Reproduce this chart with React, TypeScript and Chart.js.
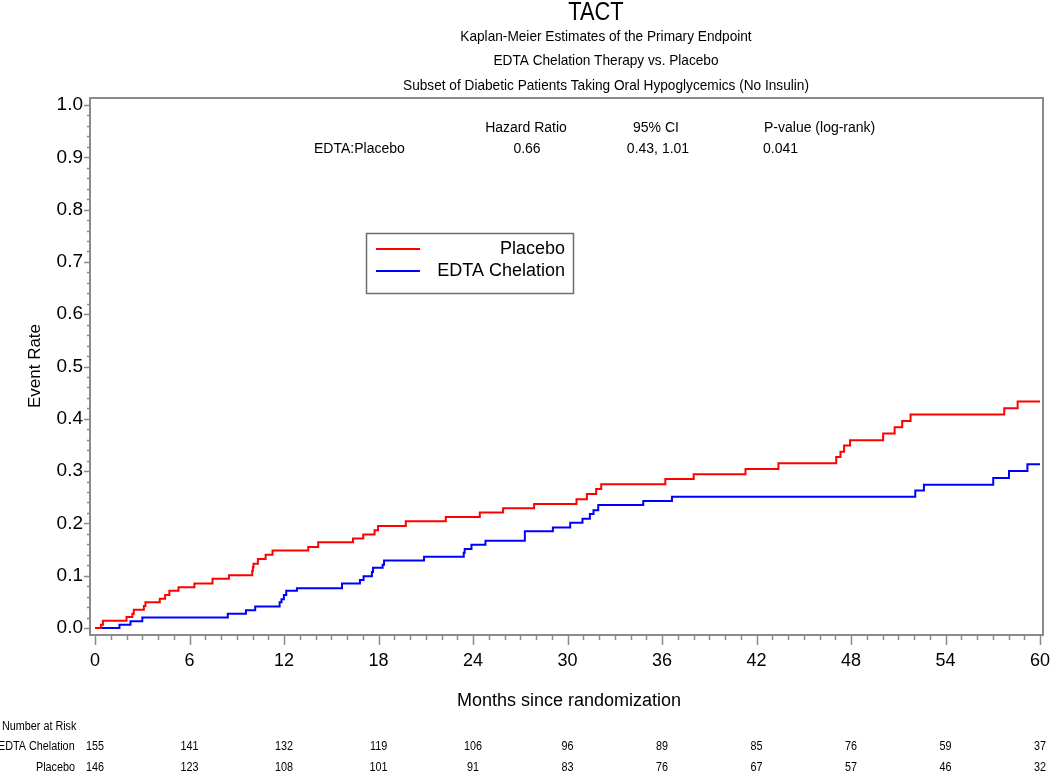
import React, { useEffect, useRef } from "react";
import { Chart, registerables } from "chart.js";

Chart.register(...registerables);

const FONT = "'Liberation Sans', Arial, Helvetica, sans-serif";

// ---------- text ----------
const mainTitle = "TACT";
const subTitles = [
  "Kaplan-Meier Estimates of the Primary Endpoint",
  "EDTA Chelation Therapy vs. Placebo",
  "Subset of Diabetic Patients Taking Oral Hypoglycemics (No Insulin)",
];
const xAxisTitle = "Months since randomization";
const yAxisTitle = "Event Rate";
const statHeaders = ["Hazard Ratio", "95% CI", "P-value (log-rank)"];
const statRowLabel = "EDTA:Placebo";
const statValues = ["0.66", "0.43, 1.01", "0.041"];
const seriesNames = ["Placebo", "EDTA Chelation"];
const seriesColors = ["#FF0000", "#0000FF"];
const riskTitle = "Number at Risk";

// ---------- ticks ----------
const xTicks = [0, 6, 12, 18, 24, 30, 36, 42, 48, 54, 60];
const yTicks = [0, 0.1, 0.2, 0.3, 0.4, 0.5, 0.6, 0.7, 0.8, 0.9, 1.0];

// ---------- number at risk ----------
const riskMonths = [0, 6, 12, 18, 24, 30, 36, 42, 48, 54, 60];
const edtaAtRisk = [155, 141, 132, 119, 106, 96, 89, 85, 76, 59, 37];
const placeboAtRisk = [146, 123, 108, 101, 91, 83, 76, 67, 57, 46, 32];

// ---------- Kaplan-Meier step data ----------
const placeboMonths = [
  0, 0.38, 0.5, 2.0, 2.37, 2.46, 3.1, 3.2, 4.11, 4.45, 4.72, 5.3, 6.31, 7.46, 8.5,
  9.98, 10.02, 10.06, 10.34, 10.83, 11.27, 13.54, 14.17, 16.38, 17.03, 17.75, 17.97,
  19.73, 22.27, 24.43, 25.91, 27.88, 30.57, 31.23, 31.82, 32.14, 36.21, 38.01, 41.3,
  43.39, 47.06, 47.33, 47.56, 47.94, 50.04, 50.77, 51.25, 51.78, 57.73, 58.58, 60,
];
const placeboRates = [
  0, 0.006, 0.014, 0.021, 0.027, 0.035, 0.042, 0.049, 0.056, 0.063, 0.071, 0.078, 0.085, 0.094, 0.101,
  0.109, 0.116, 0.123, 0.132, 0.14, 0.148, 0.155, 0.164, 0.171, 0.179, 0.187, 0.195,
  0.204, 0.212, 0.221, 0.229, 0.237, 0.246, 0.256, 0.266, 0.275, 0.285, 0.294, 0.304,
  0.315, 0.327, 0.337, 0.349, 0.359, 0.372, 0.384, 0.396, 0.408, 0.42, 0.433, 0.433,
];
const edtaMonths = [
  0, 1.55, 2.25, 3.0, 8.43, 9.58, 10.17, 11.72, 11.84, 11.99, 12.14, 12.82, 15.68,
  16.82, 17.05, 17.58, 17.65, 18.26, 18.35, 20.89, 23.41, 23.47, 23.9, 24.79, 27.29,
  29.07, 30.17, 30.95, 31.42, 31.65, 31.95, 34.81, 36.63, 52.08, 52.63, 57.03, 58.03, 59.2, 60,
];
const edtaRates = [
  0, 0.006, 0.013, 0.02, 0.027, 0.034, 0.041, 0.049, 0.055, 0.063, 0.071, 0.076, 0.085,
  0.092, 0.099, 0.107, 0.115, 0.121, 0.129, 0.136, 0.144, 0.151, 0.159, 0.167, 0.185,
  0.192, 0.201, 0.209, 0.218, 0.225, 0.235, 0.243, 0.251, 0.263, 0.274, 0.287, 0.3, 0.313, 0.313,
];

const toPoints = (xs: number[], ys: number[]) => xs.map((x, i) => ({ x, y: ys[i] }));

// draw text horizontally condensed (SAS-like narrow rendering)
const narrowText = (ctx: CanvasRenderingContext2D, text: string, x: number, y: number, sx: number) => {
  ctx.save();
  ctx.translate(x, y);
  ctx.scale(sx, 1);
  ctx.fillText(text, 0, 0);
  ctx.restore();
};

const decorPlugin = {
  id: "decor",
  afterDatasetsDraw(chart: any) {
    const { ctx, chartArea } = chart;
    const xs = chart.scales.x;
    const ys = chart.scales.y;
    ctx.save();
    ctx.strokeStyle = "#8a8a8a";
    ctx.lineWidth = 2;
    ctx.strokeRect(chartArea.left, chartArea.top, chartArea.right - chartArea.left, chartArea.bottom - chartArea.top);
    ctx.lineWidth = 1.5;
    for (let m = 0; m <= 60; m++) {
      const px = Math.round(xs.getPixelForValue(m)) + 0.5;
      const len = m % 6 === 0 ? 10 : 5;
      ctx.beginPath();
      ctx.moveTo(px, chartArea.bottom);
      ctx.lineTo(px, chartArea.bottom + len);
      ctx.stroke();
    }
    for (let k = 0; k <= 50; k++) {
      const v = k / 50;
      const py = Math.round(ys.getPixelForValue(v)) + 0.5;
      const len = k % 5 === 0 ? 6 : 3;
      ctx.beginPath();
      ctx.moveTo(chartArea.left, py);
      ctx.lineTo(chartArea.left - len, py);
      ctx.stroke();
    }
    ctx.restore();
  },
  afterDraw(chart: any) {
    const { ctx } = chart;
    const xs = chart.scales.x;
    ctx.save();
    ctx.fillStyle = "#000";
    ctx.textBaseline = "middle";

    // titles
    ctx.textAlign = "center";
    ctx.font = `26px ${FONT}`;
    narrowText(ctx, mainTitle, 596, 13, 0.84);
    ctx.font = `15px ${FONT}`;
    const subY = [37, 61, 86];
    subTitles.forEach((t, i) => narrowText(ctx, t, 606, subY[i], 0.91));

    // stats table
    ctx.font = `14px ${FONT}`;
    ctx.textAlign = "center";
    ctx.fillText(statHeaders[0], 526, 128);
    ctx.fillText(statHeaders[1], 656, 128);
    ctx.textAlign = "left";
    ctx.fillText(statHeaders[2], 764, 128);
    ctx.fillText(statRowLabel, 314, 149);
    ctx.textAlign = "center";
    ctx.fillText(statValues[0], 527, 149);
    ctx.fillText(statValues[1], 658, 149);
    ctx.textAlign = "left";
    ctx.fillText(statValues[2], 763, 149);

    // legend box
    ctx.strokeStyle = "#6e6e6e";
    ctx.lineWidth = 1.5;
    ctx.strokeRect(366.5, 233.5, 207, 60);
    const legY = [249, 271];
    ctx.font = `18px ${FONT}`;
    ctx.textAlign = "right";
    seriesNames.forEach((name, i) => {
      ctx.strokeStyle = seriesColors[i];
      ctx.lineWidth = 2;
      ctx.beginPath();
      ctx.moveTo(376, legY[i]);
      ctx.lineTo(420, legY[i]);
      ctx.stroke();
      ctx.fillText(name, 565, legY[i]);
    });

    // axis titles
    ctx.textAlign = "center";
    ctx.font = `18px ${FONT}`;
    ctx.fillText(xAxisTitle, 569, 701);
    ctx.save();
    ctx.translate(35, 366);
    ctx.rotate(-Math.PI / 2);
    ctx.font = `17px ${FONT}`;
    ctx.fillText(yAxisTitle, 0, 0);
    ctx.restore();

    // number at risk
    ctx.font = `12px ${FONT}`;
    ctx.textAlign = "left";
    narrowText(ctx, riskTitle, 2, 727, 0.9);
    narrowText(ctx, seriesNames[1], -2, 747, 0.9);
    narrowText(ctx, seriesNames[0], 36, 768, 0.9);
    ctx.textAlign = "center";
    riskMonths.forEach((m, i) => {
      const px = xs.getPixelForValue(m);
      narrowText(ctx, String(edtaAtRisk[i]), px, 747, 0.9);
      narrowText(ctx, String(placeboAtRisk[i]), px, 768, 0.9);
    });
    ctx.restore();
  },
};

export default function App() {
  const canvasRef = useRef<HTMLCanvasElement | null>(null);

  useEffect(() => {
    const canvas = canvasRef.current;
    if (!canvas) return;
    Chart.defaults.font.family = FONT;
    const chart = new Chart(canvas, {
      type: "line",
      data: {
        datasets: [
          {
            label: seriesNames[0],
            data: toPoints(placeboMonths, placeboRates),
            borderColor: seriesColors[0],
            backgroundColor: seriesColors[0],
            borderWidth: 2,
            pointRadius: 0,
            stepped: true,
            fill: false,
          },
          {
            label: seriesNames[1],
            data: toPoints(edtaMonths, edtaRates),
            borderColor: seriesColors[1],
            backgroundColor: seriesColors[1],
            borderWidth: 2,
            pointRadius: 0,
            stepped: true,
            fill: false,
          },
        ],
      },
      options: {
        animation: false,
        responsive: false,
        maintainAspectRatio: false,
        events: [],
        layout: { padding: { top: 98, right: 7, left: 0, bottom: 0 } },
        plugins: {
          legend: { display: false },
          title: { display: false },
          tooltip: { enabled: false },
        },
        scales: {
          x: {
            type: "linear",
            min: -0.32,
            max: 60.19,
            afterBuildTicks: (s: any) => {
              s.ticks = xTicks.map((v) => ({ value: v }));
            },
            afterFit: (s: any) => {
              s.height = 139;
              s.paddingLeft = 0;
              s.paddingRight = 0;
            },
            grid: { display: false, drawTicks: false },
            border: { display: false },
            ticks: {
              padding: 15,
              color: "#000",
              font: { family: FONT, size: 18 },
              maxRotation: 0,
              autoSkip: false,
              callback: (v: any) => String(v),
            },
          },
          y: {
            type: "linear",
            min: -0.0134,
            max: 1.0134,
            afterBuildTicks: (s: any) => {
              s.ticks = yTicks.map((v) => ({ value: v }));
            },
            afterFit: (s: any) => {
              s.width = 90;
              s.paddingTop = 0;
              s.paddingBottom = 0;
            },
            grid: { display: false, drawTicks: false },
            border: { display: false },
            ticks: {
              padding: 7,
              color: "#000",
              font: { family: FONT, size: 19 },
              autoSkip: false,
              callback: (v: any) => Number(v).toFixed(1),
            },
          },
        },
      },
      plugins: [decorPlugin],
    });
    return () => chart.destroy();
  }, []);

  return (
    <div style={{ position: "absolute", left: 0, top: 0, width: 1050, height: 774, background: "#fff" }}>
      <canvas ref={canvasRef} width={1050} height={774} style={{ display: "block", width: 1050, height: 774 }} />
    </div>
  );
}
